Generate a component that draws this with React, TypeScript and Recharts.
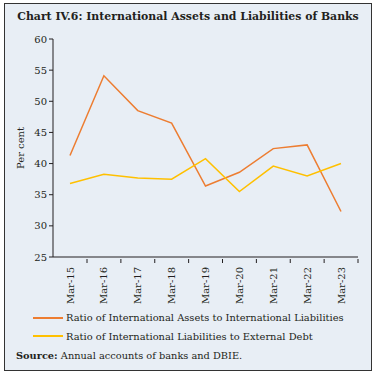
import { LineChart, Line, XAxis, YAxis } from 'recharts'

// Data (per cent)
const years = ['Mar-15', 'Mar-16', 'Mar-17', 'Mar-18', 'Mar-19', 'Mar-20', 'Mar-21', 'Mar-22', 'Mar-23']
const assetsToLiabilities = [41.3, 54.1, 48.5, 46.5, 36.4, 38.6, 42.4, 43.0, 32.3]
const liabilitiesToDebt = [36.8, 38.3, 37.7, 37.5, 40.8, 35.5, 39.6, 38.0, 40.0]
const yTicks = [25, 30, 35, 40, 45, 50, 55, 60]

const SERIES = [
  { key: 'assets', name: 'Ratio of International Assets to International Liabilities', color: '#ED7D31' },
  { key: 'liab', name: 'Ratio of International Liabilities to External Debt', color: '#FFC000' },
]

const data = years.map((y, i) => ({
  year: y,
  assets: assetsToLiabilities[i],
  liab: liabilitiesToDebt[i],
}))

const FONT = '"DejaVu Serif", serif'
const TEXT = '#231f20'
const AXIS = '#231f20'
const HALF_BAND = 17

function XTick(props: any) {
  const { x, y, payload } = props
  return (
    <g>
      <line x1={x + HALF_BAND} y1={y - 6} x2={x + HALF_BAND} y2={y - 2} stroke={AXIS} strokeWidth={1} />
      <text
        x={x}
        y={y + 2}
        transform={`rotate(-90 ${x} ${y + 2})`}
        textAnchor="end"
        dominantBaseline="central"
        fontSize={10}
        fontFamily={FONT}
        fill={TEXT}
      >
        {payload.value}
      </text>
    </g>
  )
}

export default function App() {
  return (
    <div
      style={{
        position: 'absolute',
        left: 0,
        top: 0,
        width: 378,
        height: 376,
        background: '#fff',
      }}
    >
      <div
        style={{
          position: 'absolute',
          left: 4,
          top: 3,
          width: 366,
          height: 366,
          border: '1.5px solid #333',
          background: '#E8EEF5',
        }}
      />
      <div
        style={{
          position: 'absolute',
          left: 0,
          top: 10,
          width: 376,
          textAlign: 'center',
          fontFamily: FONT,
          fontWeight: 'bold',
          fontSize: 10.9,
          color: TEXT,
        }}
      >
        Chart IV.6: International Assets and Liabilities of Banks
      </div>
      <div style={{ position: 'absolute', left: 0, top: 0 }}>
        <LineChart
          width={378}
          height={310}
          data={data}
          margin={{ top: 39, right: 20, left: 0, bottom: 0 }}
        >
          <XAxis
            dataKey="year"
            padding={{ left: HALF_BAND, right: HALF_BAND }}
            height={53}
            tickLine={false}
            axisLine={{ stroke: AXIS }}
            tick={<XTick />}
            interval={0}
          />
          <YAxis
            domain={[25, 60]}
            ticks={yTicks}
            width={53}
            tickSize={4}
            tickLine={{ stroke: AXIS }}
            axisLine={{ stroke: AXIS }}
            tick={{ fill: TEXT, fontSize: 10, fontFamily: FONT }}
            interval={0}
            label={{
              value: 'Per cent',
              angle: -90,
              position: 'center',
              dx: -6,
              style: { fill: TEXT, fontSize: 10, fontFamily: FONT, textAnchor: 'middle' },
            }}
          />
          {SERIES.map((s) => (
            <Line
              key={s.key}
              dataKey={s.key}
              name={s.name}
              stroke={s.color}
              strokeWidth={1.5}
              dot={false}
              isAnimationActive={false}
            />
          ))}
        </LineChart>
      </div>
      {SERIES.map((s, i) => (
        <div
          key={s.key}
          style={{
            position: 'absolute',
            left: 33,
            top: 312 + i * 18.7,
            display: 'flex',
            alignItems: 'center',
            fontFamily: FONT,
            fontSize: 9.9,
            color: TEXT,
            whiteSpace: 'nowrap',
          }}
        >
          <span style={{ display: 'inline-block', width: 30, height: 2, background: s.color, marginRight: 3 }} />
          {s.name}
        </div>
      ))}
      <div
        style={{
          position: 'absolute',
          left: 16,
          top: 350,
          fontFamily: FONT,
          fontSize: 9.8,
          color: TEXT,
          whiteSpace: 'nowrap',
        }}
      >
        <b>Source:</b> Annual accounts of banks and DBIE.
      </div>
    </div>
  )
}
